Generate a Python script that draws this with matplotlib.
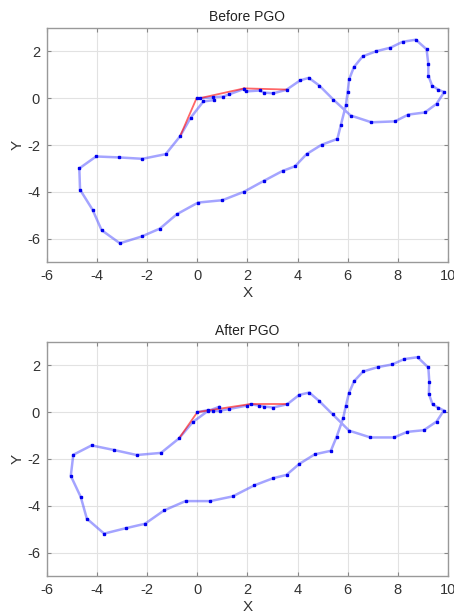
import matplotlib.pyplot as plt
import numpy as np

plt.rcParams['font.family'] = ['Liberation Sans', 'DejaVu Sans']
plt.rcParams['axes.unicode_minus'] = False

# pose trajectory before optimisation
before_x = [0.0, 0.12, 0.63, 1.03, 1.26, 1.87, 1.94, 2.5, 2.66, 3.03, 3.56, 4.1, 4.45, 4.87,
            5.43, 6.12, 6.95, 7.89, 8.42, 9.08, 9.55, 9.85, 9.61, 9.37, 9.22, 9.22, 9.15,
            8.72, 8.19, 7.71, 7.15, 6.6, 6.25, 6.06, 6.0, 5.93, 5.73, 5.59, 4.96, 4.36,
            3.9, 3.4, 2.66, 1.86, 1.0, 0.03, -0.82, -1.49, -2.22, -3.09, -3.82, -4.18,
            -4.68, -4.71, -4.04, -3.13, -2.19, -1.26, -0.69, -0.27, 0.24, 0.66]
before_y = [0.0, 0.0, 0.04, 0.07, 0.16, 0.4, 0.29, 0.33, 0.24, 0.21, 0.36, 0.76, 0.87, 0.54,
            -0.06, -0.74, -1.03, -0.99, -0.7, -0.61, -0.24, 0.26, 0.37, 0.54, 0.97, 1.47, 2.09,
            2.5, 2.41, 2.16, 2.01, 1.79, 1.33, 0.81, 0.26, -0.3, -1.14, -1.74, -1.99, -2.39,
            -2.91, -3.11, -3.53, -4.0, -4.36, -4.46, -4.96, -5.57, -5.91, -6.2, -5.64, -4.77,
            -3.91, -3.0, -2.49, -2.53, -2.59, -2.39, -1.63, -0.84, -0.14, -0.08]

# pose trajectory after optimisation
after_x = [0.0, 0.44, 0.64, 0.9, 1.28, 1.97, 2.13, 2.47, 2.66, 3.03, 3.59, 4.07, 4.47, 4.87,
           5.4, 6.06, 6.91, 7.85, 8.38, 9.04, 9.55, 9.84, 9.61, 9.39, 9.24, 9.26, 9.22,
           8.79, 8.26, 7.78, 7.22, 6.62, 6.26, 6.05, 5.93, 5.82, 5.56, 5.33, 4.69, 4.07,
           3.56, 3.03, 2.27, 1.41, 0.51, -0.47, -1.33, -2.09, -2.86, -3.72, -4.41, -4.65,
           -5.05, -4.95, -4.22, -3.31, -2.42, -1.45, -0.73, -0.19, 0.42, 0.88]
after_y = [0.0, 0.09, 0.06, 0.06, 0.14, 0.28, 0.34, 0.28, 0.24, 0.2, 0.34, 0.74, 0.84, 0.47,
           -0.09, -0.79, -1.08, -1.08, -0.84, -0.77, -0.4, 0.07, 0.2, 0.33, 0.79, 1.3, 1.91,
           2.35, 2.27, 2.04, 1.93, 1.74, 1.33, 0.81, 0.28, -0.26, -1.05, -1.65, -1.8, -2.21,
           -2.68, -2.82, -3.13, -3.6, -3.8, -3.8, -4.2, -4.77, -4.96, -5.19, -4.55, -3.63,
           -2.72, -1.82, -1.42, -1.62, -1.83, -1.74, -1.12, -0.43, 0.05, 0.23]

# loop closure edges (x1, y1, x2, y2)
before_loops = [(-0.69, -1.63, -0.03, 0.0), (0.1, 0.0, 1.87, 0.42), (1.87, 0.42, 3.56, 0.37)]
after_loops = [(-0.73, -1.12, 0.0, 0.0), (0.1, 0.02, 2.13, 0.35), (2.13, 0.35, 3.59, 0.35)]

fig = plt.figure(figsize=(4.54, 6.13), dpi=100)
ax1 = fig.add_axes([0.1035, 0.5726, 0.883, 0.3817])
ax2 = fig.add_axes([0.1035, 0.0604, 0.883, 0.3817])

font = dict(fontsize=11, color='#333333')

for ax, xs, ys, loops, title in [(ax1, before_x, before_y, before_loops, "Before PGO"),
                                 (ax2, after_x, after_y, after_loops, "After PGO")]:
    ax.plot(xs, ys, color='#5a5aff', alpha=0.55, lw=1.8, zorder=2)
    for x1, y1, x2, y2 in loops:
        ax.plot([x1, x2], [y1, y2], color='red', alpha=0.6, lw=1.3, zorder=3)
    ax.plot(xs, ys, ls='none', marker='s', ms=1.6, color='#0000ee', zorder=4)
    ax.set_xlim(-6, 10)
    ax.set_ylim(-7, 3)
    ax.set_xticks(np.arange(-6, 11, 2))
    ax.set_yticks(np.arange(-6, 3, 2))
    ax.grid(True, color='#e2e2e2', lw=0.8)
    ax.set_axisbelow(True)
    ax.tick_params(direction='in', top=True, right=True, length=3, labelsize=10.5,
                   colors='#888888', labelcolor='#333333', pad=5)
    for s in ax.spines.values():
        s.set_color('#999999')
        s.set_linewidth(1)
    ax.set_title(title, fontsize=10, color='#222222', pad=5)
    ax.set_xlabel("X", labelpad=2, **font)
    ax.set_ylabel("Y", labelpad=2, **font)

fig.savefig("out.png", dpi=100)
